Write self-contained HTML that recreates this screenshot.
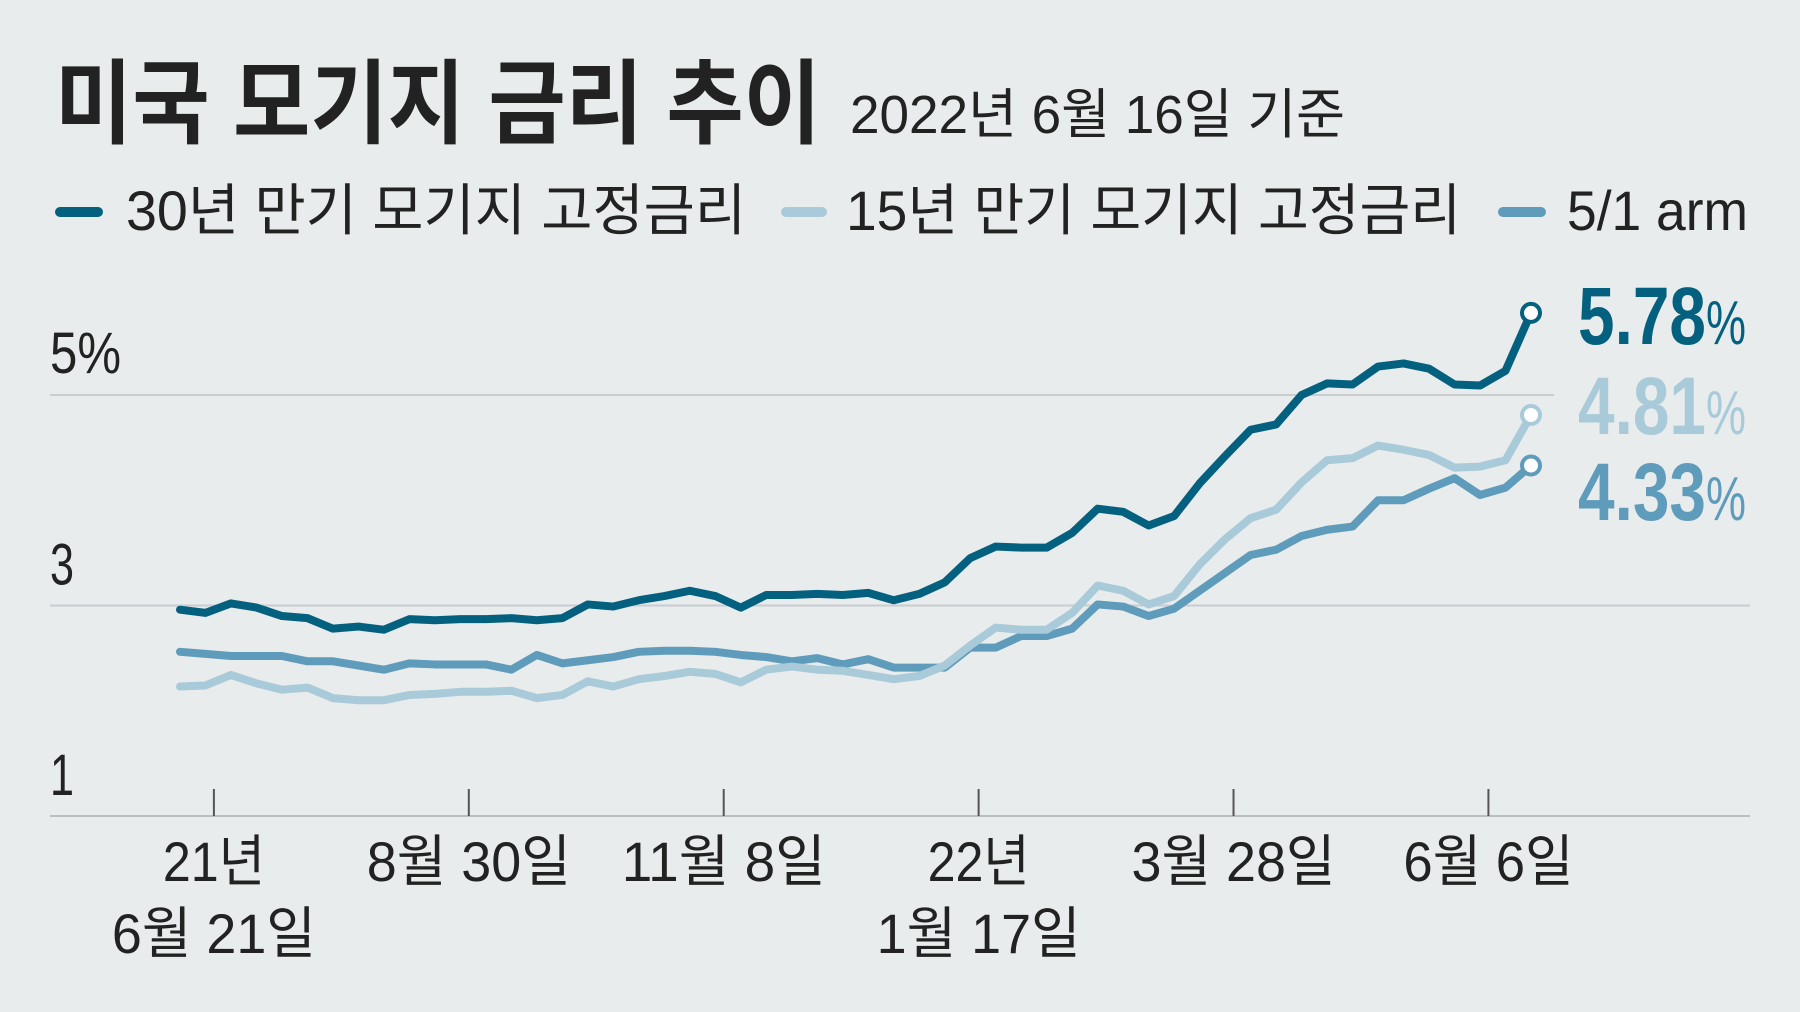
<!DOCTYPE html>
<html><head><meta charset="utf-8"><style>
html,body{margin:0;padding:0;background:#e8ecec;}
svg{display:block;}
text{font-family:"Liberation Sans","Noto Sans CJK KR",sans-serif;}
</style></head><body>
<svg id="chart" width="1800" height="1012" viewBox="0 0 1800 1012" xmlns="http://www.w3.org/2000/svg">
<rect width="1800" height="1012" fill="#e8ecec"/>
<text x="55" y="136" font-size="92" font-weight="bold" fill="#222" textLength="766" lengthAdjust="spacingAndGlyphs">미국 모기지 금리 추이</text>
<text x="850" y="133" font-size="54" fill="#222" textLength="495" lengthAdjust="spacingAndGlyphs">2022년 6월 16일 기준</text>
<g>
<line x1="60" y1="212" x2="98" y2="212" stroke="#04607f" stroke-width="10" stroke-linecap="round"/>
<text x="126" y="230" font-size="56" fill="#222" textLength="620" lengthAdjust="spacingAndGlyphs">30년 만기 모기지 고정금리</text>
<line x1="786" y1="212" x2="822" y2="212" stroke="#a9cad9" stroke-width="10" stroke-linecap="round"/>
<text x="846" y="230" font-size="56" fill="#222" textLength="615" lengthAdjust="spacingAndGlyphs">15년 만기 모기지 고정금리</text>
<line x1="1503" y1="212" x2="1541" y2="212" stroke="#5f9bba" stroke-width="10" stroke-linecap="round"/>
<text x="1567" y="230" font-size="56" fill="#222" textLength="181" lengthAdjust="spacingAndGlyphs">5/1 arm</text>
</g>
<g id="grid"></g>
<g id="series"></g>
</svg>
<script>
const weeks = 54;
const rate30 = [2.96,2.93,3.02,2.98,2.90,2.88,2.78,2.80,2.77,2.87,2.86,2.87,2.87,2.88,2.86,2.88,3.01,2.99,3.05,3.09,3.14,3.09,2.98,3.10,3.10,3.11,3.10,3.12,3.05,3.11,3.22,3.45,3.56,3.55,3.55,3.69,3.92,3.89,3.76,3.85,4.16,4.42,4.67,4.72,5.00,5.11,5.10,5.27,5.30,5.25,5.10,5.09,5.23,5.78];
const rate15 = [2.23,2.24,2.34,2.26,2.20,2.22,2.12,2.10,2.10,2.15,2.16,2.18,2.18,2.19,2.12,2.15,2.28,2.23,2.30,2.33,2.37,2.35,2.27,2.39,2.42,2.39,2.38,2.34,2.30,2.33,2.43,2.62,2.79,2.77,2.77,2.93,3.19,3.14,3.01,3.09,3.39,3.63,3.83,3.91,4.17,4.38,4.40,4.52,4.48,4.43,4.31,4.32,4.38,4.81];
const rateArm = [2.56,2.54,2.52,2.52,2.52,2.47,2.47,2.43,2.39,2.45,2.44,2.44,2.44,2.39,2.53,2.45,2.48,2.51,2.56,2.57,2.57,2.56,2.53,2.51,2.47,2.50,2.44,2.49,2.41,2.41,2.41,2.60,2.60,2.71,2.71,2.78,3.01,2.99,2.90,2.97,3.14,3.31,3.48,3.53,3.66,3.72,3.75,4.00,4.00,4.11,4.21,4.05,4.12,4.33];
const yTicks = [1,3,5];
const yTickLabels = ["1","3","5%"];
const xTickWeeks = [1.33,11.33,21.33,31.33,41.33,51.33];
const xTickLabels = [["21년","6월 21일"],["8월 30일"],["11월 8일"],["22년","1월 17일"],["3월 28일"],["6월 6일"]];
const endLabels = ["5.78","4.81","4.33"];

const NS="http://www.w3.org/2000/svg";
const X = i => 180 + i*(1531-180)/(weeks-1);
const Y = v => 816 - (v-1)*105.25;
function mk(tag, attrs, parent){const e=document.createElementNS(NS,tag);for(const k in attrs)e.setAttribute(k,attrs[k]);parent.appendChild(e);return e;}
const grid=document.getElementById('grid'), ser=document.getElementById('series');
const gridRight = {1:1750,3:1750,5:1554};
const labelBase = {1:-21,3:-21,5:-22};
yTicks.forEach((v,k)=>{
  const l=mk('line',{x1:50,x2:gridRight[v],y1:Y(v),y2:Y(v),stroke:v===1?'#bbbfc2':'#c9cdcf','stroke-width':2},grid);
  
  
  const t=mk('text',{x:50,y:Y(v)+labelBase[v],'font-size':58,fill:'#222'},grid);
  
  
  t.textContent=yTickLabels[k];
  t.setAttribute('textLength', v===5 ? 71 : 24);
  t.setAttribute('lengthAdjust','spacingAndGlyphs');
});
xTickWeeks.forEach((w,k)=>{
  const x=X(w);
  const l=mk('line',{x1:x,x2:x,y1:789,y2:816,stroke:'#555','stroke-width':2},grid);
  
  
  xTickLabels[k].forEach((s,j)=>{
    const t=mk('text',{x:x,y:881+j*72,'font-size':56,fill:'#222','text-anchor':'middle',textLength:s.length*34,lengthAdjust:'spacingAndGlyphs'},grid);
    
    
    t.textContent=s;
  });
});
const labelY = [344,434,520];
const seriesDefs=[[rateArm,'#5f9bba','arm',2],[rate15,'#a9cad9','15y',1],[rate30,'#04607f','30y',0]];
seriesDefs.forEach(([arr,col,name,li])=>{
  const p=mk('polyline',{points:arr.map((v,i)=>X(i)+','+Y(v)).join(' '),fill:'none',stroke:col,'stroke-width':8,'stroke-linejoin':'round','stroke-linecap':'round'},ser);
  
  
  const last=arr.length-1;
  const c=mk('circle',{cx:X(last),cy:Y(arr[last]),r:9,fill:'#fff',stroke:col,'stroke-width':4},ser);
  
  
  const t=mk('text',{x:1578,y:labelY[li],'font-size':82,'font-weight':'bold',fill:col},ser);
  
  
  const a=mk('tspan',{textLength:128,lengthAdjust:'spacingAndGlyphs'},t);
  a.textContent=endLabels[li];
  const b=mk('tspan',{'font-size':62,'font-weight':'normal',textLength:40,lengthAdjust:'spacingAndGlyphs'},t);
  b.textContent='%';
});
</script>
</body></html>
